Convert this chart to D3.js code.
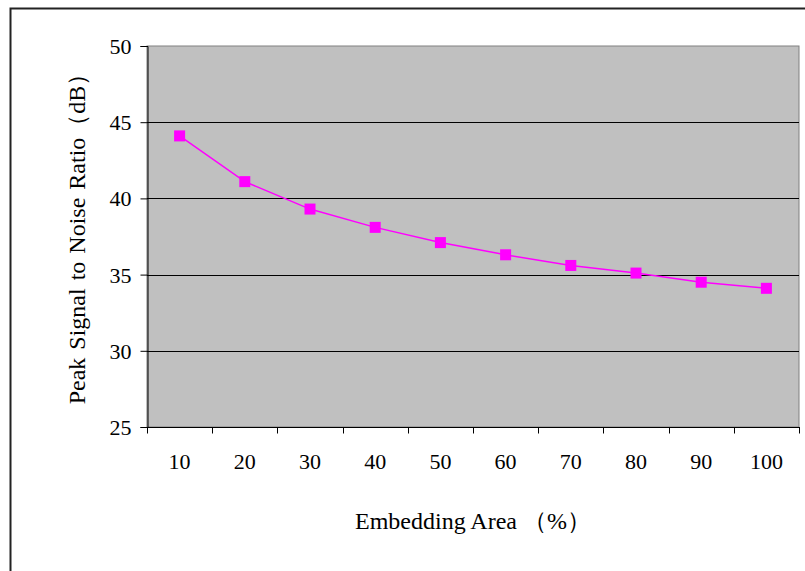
<!DOCTYPE html>
<html>
<head>
<meta charset="utf-8">
<script src="https://cdn.jsdelivr.net/npm/d3@7"></script>
<style>
  html, body { margin: 0; padding: 0; background: #fff; }
  svg { display: block; }
  text { font-family: "Liberation Serif", "Times New Roman", serif; fill: #000; }
</style>
</head>
<body>
<svg id="chart" width="805" height="571"></svg>
<script>
// Embedding area (%) on the x axis
const categories = ["10", "20", "30", "40", "50", "60", "70", "80", "90", "100"];
// PSNR in dB for each embedding area
const psnr = [44.1, 41.1, 39.3, 38.1, 37.1, 36.3, 35.6, 35.1, 34.5, 34.1];
const yTicks = [25, 30, 35, 40, 45, 50];

const svg = d3.select("#chart");
const plot = { left: 147, right: 799, top: 46, bottom: 427 };

// outer frame
svg.append("rect")
  .attr("x", 10.5).attr("y", 8.5)
  .attr("width", 820).attr("height", 600)
  .attr("fill", "none").attr("stroke", "#222").attr("stroke-width", 2);

const x = d3.scaleBand().domain(categories).range([plot.left, plot.right]).padding(0);
const y = d3.scaleLinear().domain([25, 50]).range([plot.bottom, plot.top]);

// plot background
svg.append("rect")
  .attr("x", plot.left).attr("y", plot.top)
  .attr("width", plot.right - plot.left).attr("height", plot.bottom - plot.top)
  .attr("fill", "#c0c0c0").attr("stroke", "#808080").attr("stroke-width", 1);

// horizontal gridlines
svg.append("g")
  .selectAll("line")
  .data(yTicks.filter(d => d > 25 && d < 50))
  .join("line")
  .attr("x1", plot.left).attr("x2", plot.right)
  .attr("y1", d => Math.round(y(d)) + 0.5).attr("y2", d => Math.round(y(d)) + 0.5)
  .attr("stroke", "#000").attr("stroke-width", 1);

// y axis
const yAxis = svg.append("g")
  .attr("transform", `translate(${plot.left + 0.5},0)`)
  .call(d3.axisLeft(y).tickValues(yTicks).tickSize(7).tickPadding(9));
yAxis.select(".domain").attr("stroke", "#000");
yAxis.selectAll(".tick line").attr("stroke", "#000");
yAxis.selectAll(".tick text").style("font-size", "22px").attr("dy", "0.34em");

// x axis: ticks between categories
const xAxisG = svg.append("g").attr("transform", `translate(0,${plot.bottom + 0.5})`);
xAxisG.append("line")
  .attr("x1", plot.left).attr("x2", plot.right + 1)
  .attr("stroke", "#000");
const boundaries = categories.map(c => x(c)).concat([x(categories[categories.length - 1]) + x.bandwidth()]);
xAxisG.selectAll("line.tick")
  .data(boundaries)
  .join("line").attr("class", "tick")
  .attr("x1", d => Math.round(d) + 0.5).attr("x2", d => Math.round(d) + 0.5)
  .attr("y1", 0).attr("y2", 6)
  .attr("stroke", "#000");
xAxisG.selectAll("text")
  .data(categories)
  .join("text")
  .attr("x", d => x(d) + x.bandwidth() / 2)
  .attr("y", 41)
  .attr("text-anchor", "middle")
  .style("font-size", "22px")
  .text(d => d);

// series line
const line = d3.line()
  .x((d, i) => x(categories[i]) + x.bandwidth() / 2)
  .y(d => y(d));
svg.append("path")
  .datum(psnr)
  .attr("d", line)
  .attr("fill", "none")
  .attr("stroke", "#ff00ff")
  .attr("stroke-width", 1.5);

// square markers
const ms = 11;
svg.append("g")
  .selectAll("rect")
  .data(psnr)
  .join("rect")
  .attr("x", (d, i) => x(categories[i]) + x.bandwidth() / 2 - ms / 2)
  .attr("y", d => y(d) - ms / 2)
  .attr("width", ms).attr("height", ms)
  .attr("fill", "#ff00ff");

// axis titles
svg.append("text")
  .attr("transform", "translate(85,233) rotate(-90)")
  .attr("text-anchor", "middle")
  .style("font-size", "24px")
  .style("word-spacing", "2px")
  .text("Peak Signal to Noise Ratio\uFF08dB\uFF09");

svg.append("text")
  .attr("x", 473).attr("y", 529)
  .attr("text-anchor", "middle")
  .style("font-size", "24px")
  .text("Embedding Area \uFF08%\uFF09");
</script>
</body>
</html>
